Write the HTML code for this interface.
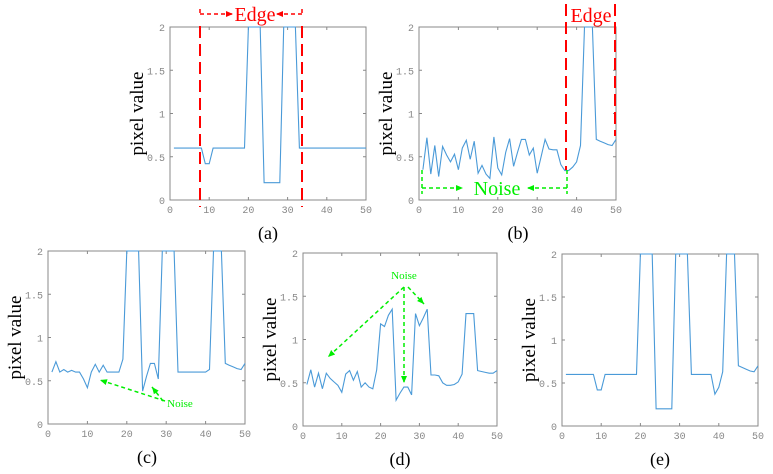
<!DOCTYPE html>
<html><head><meta charset="utf-8"><style>
html,body{margin:0;padding:0;background:#fff}
svg{display:block}
.tk{font-family:"Liberation Mono","DejaVu Sans Mono",monospace;font-size:10px;fill:#888}
.yl{font-family:"Liberation Serif",serif;font-size:19px;fill:#000}
.cap{font-family:"Liberation Serif",serif;font-size:18px;fill:#000}
</style></head><body>
<svg id="fig" width="773" height="474" viewBox="0 0 773 474">
<defs>
<marker id="ar" markerWidth="8" markerHeight="8" refX="7" refY="4" orient="auto" markerUnits="userSpaceOnUse"><path d="M0,1 L7,4 L0,7z" fill="#f00"/></marker>
<marker id="ag" markerWidth="8" markerHeight="8" refX="7" refY="4" orient="auto" markerUnits="userSpaceOnUse"><path d="M0,1 L7,4 L0,7z" fill="#0e0"/></marker>
</defs>
<g id="annot">
<g stroke="#f00" stroke-width="2" fill="none" stroke-dasharray="12,6">
<line x1="200" y1="26" x2="200" y2="207"/>
<line x1="302" y1="26" x2="302" y2="207"/>
<line x1="566" y1="4" x2="566" y2="170"/>
<line x1="615" y1="4" x2="615" y2="136"/>
</g>
<g stroke="#f00" stroke-width="1.5" fill="none" stroke-dasharray="4,3">
<line x1="200" y1="9" x2="200" y2="15"/><line x1="302" y1="9" x2="302" y2="15"/>
<line x1="200" y1="14" x2="233" y2="14" marker-end="url(#ar)"/>
<line x1="302" y1="14" x2="276" y2="14" marker-end="url(#ar)"/>
</g>
<text x="255" y="21" fill="#f00" font-family="Liberation Serif,serif" font-size="20" text-anchor="middle">Edge</text>
<text x="591" y="22" fill="#f00" font-family="Liberation Serif,serif" font-size="20" text-anchor="middle">Edge</text>
<g stroke="#0e0" stroke-width="1.5" fill="none" stroke-dasharray="4,3">
<line x1="422" y1="170" x2="422" y2="194"/><line x1="567" y1="170" x2="567" y2="194"/>
<line x1="422" y1="188" x2="463" y2="188" marker-end="url(#ag)"/>
<line x1="567" y1="188" x2="527" y2="188" marker-end="url(#ag)"/>
<line x1="165" y1="401" x2="100" y2="380" marker-end="url(#ag)"/>
<line x1="163" y1="401" x2="152" y2="387" marker-end="url(#ag)"/>
<line x1="404" y1="287" x2="328" y2="357" marker-end="url(#ag)"/>
<line x1="404" y1="287" x2="404" y2="383" marker-end="url(#ag)"/>
<line x1="408" y1="287" x2="424" y2="304" marker-end="url(#ag)"/>
</g>
<text x="497" y="195" fill="#0e0" font-family="Liberation Serif,serif" font-size="20" text-anchor="middle">Noise</text>
<text x="180" y="407" fill="#0e0" font-family="Liberation Serif,serif" font-size="11" text-anchor="middle">Noise</text>
<text x="404" y="279" fill="#0e0" font-family="Liberation Serif,serif" font-size="11" text-anchor="middle">Noise</text>
</g>
</svg>
<script>
const xTicks=[0,10,20,30,40,50];
const yTicks=[0,0.5,1,1.5,2];
const yTickLabels=["0","0.5","1","1.5","2"];
const seriesA=[0.6,0.6,0.6,0.6,0.6,0.6,0.6,0.6,0.42,0.42,0.6,0.6,0.6,0.6,0.6,0.6,0.6,0.6,0.6,2,2,2,2,0.2,0.2,0.2,0.2,0.2,2,2,2,2,0.6,0.6,0.6,0.6,0.6,0.6,0.6,0.6,0.6,0.6,0.6,0.6,0.6,0.6,0.6,0.6,0.6,0.6];
const seriesB=[0.35,0.72,0.3,0.63,0.27,0.62,0.52,0.44,0.53,0.35,0.6,0.69,0.47,0.68,0.31,0.4,0.3,0.25,0.73,0.37,0.29,0.55,0.71,0.39,0.55,0.7,0.7,0.52,0.6,0.31,0.5,0.7,0.59,0.58,0.58,0.41,0.34,0.34,0.38,0.44,0.63,2,2,2,0.7,0.68,0.66,0.64,0.63,0.7];
const seriesC=[0.6,0.72,0.6,0.63,0.6,0.62,0.6,0.6,0.52,0.42,0.6,0.69,0.6,0.68,0.6,0.6,0.6,0.6,0.75,2,2,2,2,0.38,0.55,0.7,0.7,0.52,2,2,2,2,0.6,0.6,0.6,0.6,0.6,0.6,0.6,0.6,0.63,2,2,2,0.7,0.68,0.66,0.64,0.63,0.7];
const seriesD=[0.48,0.65,0.45,0.61,0.43,0.61,0.55,0.51,0.47,0.39,0.6,0.64,0.53,0.63,0.45,0.5,0.45,0.43,0.65,1.18,1.15,1.28,1.35,0.3,0.38,0.45,0.45,0.36,1.3,1.16,1.25,1.35,0.59,0.59,0.58,0.5,0.47,0.47,0.48,0.51,0.6,1.3,1.3,1.3,0.64,0.63,0.62,0.61,0.61,0.64];
const seriesE=[0.6,0.6,0.6,0.6,0.6,0.6,0.6,0.6,0.42,0.42,0.6,0.6,0.6,0.6,0.6,0.6,0.6,0.6,0.6,2,2,2,2,0.2,0.2,0.2,0.2,0.2,2,2,2,2,0.6,0.6,0.6,0.6,0.6,0.6,0.37,0.45,0.63,2,2,2,0.7,0.68,0.66,0.64,0.63,0.7];
const panelIds=["a","b","c","d","e"];
const allSeries=[seriesA,seriesB,seriesC,seriesD,seriesE];
const boxes=[[170,27,366,200,268,239],[419,27,616,200,518,239],[48,251,245,424,147,463],[303,253,497,426,400,465],[562,254,758,426,660,465]];
const NS="http://www.w3.org/2000/svg";
const svg=document.getElementById('fig');
const annot=document.getElementById('annot');
function mk(tag,attrs,parent){const e=document.createElementNS(NS,tag);for(const k in attrs)e.setAttribute(k,attrs[k]);parent.appendChild(e);return e;}
panelIds.forEach((id,i)=>{
  const [L,T,R,B,cx,cy]=boxes[i];
  const sx=v=>L+(v-0)/(50-0)*(R-L);
  const sy=v=>B-(v-0)/(2-0)*(B-T);
  const g=mk('g',{},svg);
  
  
  const box=mk('rect',{x:L,y:T,width:R-L,height:B-T,fill:'#fff',stroke:'#888','stroke-width':1},g);
  
  
  xTicks.forEach(t=>{
    mk('line',{x1:sx(t),x2:sx(t),y1:B,y2:B-3,stroke:'#888'},g);
    mk('line',{x1:sx(t),x2:sx(t),y1:T,y2:T+3,stroke:'#888'},g);
    const tx=mk('text',{x:sx(t),y:B+13,'text-anchor':'middle',class:'tk'},g);
    tx.textContent=t;
    
    
  });
  yTicks.forEach((t,j)=>{
    mk('line',{x1:L,x2:L+3,y1:sy(t),y2:sy(t),stroke:'#888'},g);
    mk('line',{x1:R,x2:R-3,y1:sy(t),y2:sy(t),stroke:'#888'},g);
    const tx=mk('text',{x:L-5,y:sy(t)+4,'text-anchor':'end',class:'tk'},g);
    tx.textContent=yTickLabels[j];
    
    
  });
  const yl=mk('text',{x:0,y:0,'text-anchor':'middle',class:'yl',transform:`translate(${L-27},${(T+B)/2}) rotate(-90)`},g);
  yl.textContent='pixel value';
  
  
  const cap=mk('text',{x:cx,y:cy,'text-anchor':'middle',class:'cap'},g);
  cap.textContent='('+id+')';
  
  
  const d=allSeries[i].map((v,k)=>(k?'L':'M')+sx(k+1).toFixed(1)+','+sy(Math.min(v,2)).toFixed(1)).join(' ');
  const ln=mk('path',{d:d,fill:'none',stroke:'#4a9ad8','stroke-width':1.1},g);
  
  
});
svg.appendChild(annot);
</script>
</body></html>
